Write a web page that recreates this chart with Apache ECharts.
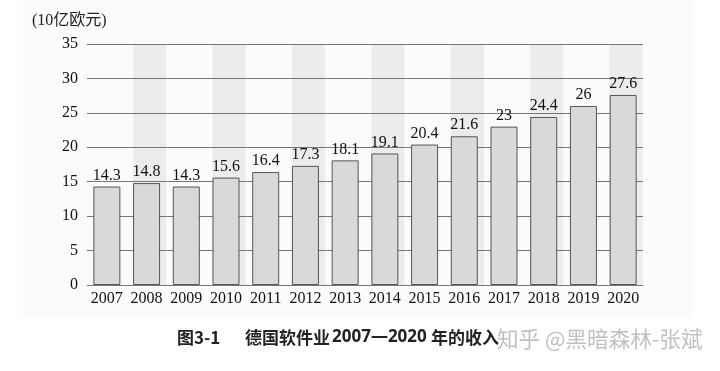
<!DOCTYPE html>
<html><head><meta charset="utf-8">
<script src="https://cdn.jsdelivr.net/npm/echarts@6/dist/echarts.min.js"></script>
<style>html,body{margin:0;padding:0;background:#fff;}#c{width:720px;height:371px;}</style>
</head><body><div id="c"></div>
<script>
const years = ['2007','2008','2009','2010','2011','2012','2013','2014','2015','2016','2017','2018','2019','2020'];
const revenue = [14.3,14.8,14.3,15.6,16.4,17.3,18.1,19.1,20.4,21.6,23,24.4,26,27.6];
const yTicks = [0,5,10,15,20,25,30,35];
const yMax = 35;
const unitLabel = '(10亿欧元)';
const captionParts = ['图3-1', '德国软件业', '2007—2020', '年的收入'];
const watermark = '知乎 @黑暗森林-张斌';

const bands = years.map((y,i) => i % 2 === 1 ? yMax : '-');
const serif = '"Liberation Serif","DejaVu Serif","Noto Sans CJK SC",serif';
const capFont = 'bold 17px "Noto Sans CJK SC","Noto Sans",sans-serif';

const chart = echarts.init(document.getElementById('c'));
chart.setOption({
  backgroundColor: '#fff',
  animation: false,
  graphic: [
    { type: 'rect', z: -10, shape: { x: 23, y: 0, width: 670, height: 318 }, style: { fill: '#fbfbfb' } },
    { type: 'text', left: 32, top: 13, z: 10, style: { text: unitLabel, font: '16px ' + serif, fill: '#222' } },
    { type: 'text', left: 177, top: 329, z: 10, style: { text: captionParts[0], font: capFont, fill: '#222' } },
    { type: 'text', left: 245, top: 329, z: 10, style: { text: captionParts[1], font: capFont, fill: '#222' } },
    { type: 'text', left: 332, top: 329, z: 10, style: { text: captionParts[2], font: 'bold 17px "Noto Sans","Noto Sans CJK SC",sans-serif', fill: '#222' } },
    { type: 'text', left: 431, top: 329, z: 10, style: { text: captionParts[3], font: capFont, fill: '#222' } },
    { type: 'text', left: 497, top: 328, z: 11, style: { text: watermark, font: '21.6px "Noto Sans CJK SC",sans-serif', fill: 'rgba(185,185,185,0.9)' } }
  ],
  grid: { left: 87, right: 77, top: 44, bottom: 86, containLabel: false },
  xAxis: {
    type: 'category', data: years, z: 2,
    axisLine: { show: true, lineStyle: { color: '#777', width: 1 } },
    axisTick: { show: false },
    axisLabel: { color: '#111', fontFamily: serif, fontSize: 16, margin: 6, interval: 0 }
  },
  yAxis: {
    type: 'value', min: 0, max: yMax, interval: 5, z: 2,
    axisLine: { show: false }, axisTick: { show: false },
    axisLabel: { color: '#111', fontFamily: serif, fontSize: 16, margin: 9,
      formatter: v => yTicks.includes(v) ? String(v) : '' },
    splitLine: { show: true, lineStyle: { color: '#777', width: 1 } }
  },
  series: [
    { type: 'bar', data: bands, barWidth: 33, barGap: '-100%', z: 1, silent: true,
      itemStyle: { color: '#ececec' } },
    { type: 'bar', data: revenue, barWidth: 27, z: 3,
      itemStyle: { color: '#d9d9d9', borderColor: '#555', borderWidth: 1 },
      label: { show: true, position: 'top', distance: 3, color: '#111', fontFamily: serif, fontSize: 16 } }
  ]
});
</script></body></html>
